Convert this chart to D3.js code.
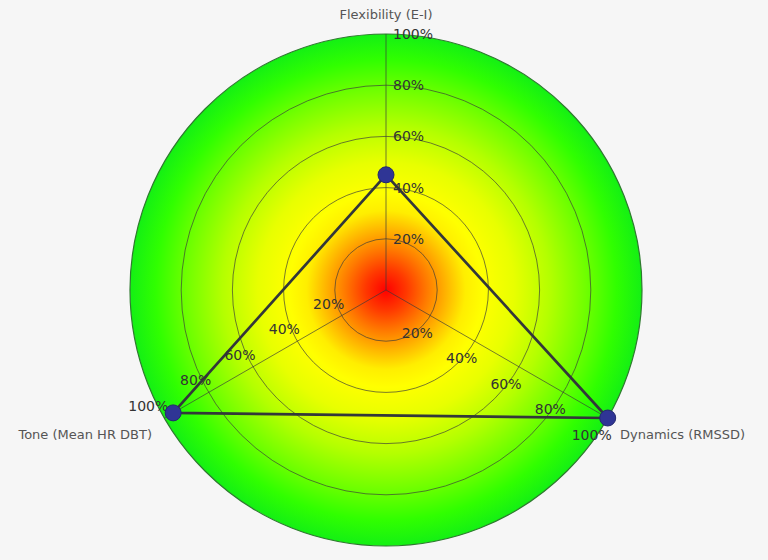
<!DOCTYPE html>
<html><head><meta charset="utf-8">
<script src="https://cdn.jsdelivr.net/npm/d3@7"></script>
<style>
html,body{margin:0;padding:0;background:#f6f6f6;}
svg{display:block;font-family:"DejaVu Sans",Verdana,sans-serif;}
</style></head>
<body>
<svg id="chart" width="768" height="560"></svg>
<script>
const categories = ["Flexibility (E-I)", "Dynamics (RMSSD)", "Tone (Mean HR DBT)"];
const values = [45, 100, 96];
const tickValues = [20, 40, 60, 80, 100];
const tickLabels = ["20%", "40%", "60%", "80%", "100%"];

const W = 768, H = 560, cx = 386, cy = 290, R = 256;
const svg = d3.select("#chart");
svg.append("rect").attr("width", W).attr("height", H).attr("fill", "#f6f6f6");

const defs = svg.append("defs");
const grad = defs.append("radialGradient").attr("id", "bg")
  .attr("cx", cx).attr("cy", cy).attr("r", R).attr("gradientUnits", "userSpaceOnUse");
[[0, "#ff0000"], [0.08, "#ff3800"], [0.16, "#ff7a00"], [0.24, "#ffb800"], [0.31, "#ffee00"], [0.38, "#ffff00"], [0.5, "#e8ff00"], [0.64, "#b4ff00"], [0.78, "#70ff00"], [0.9, "#30ff00"], [1, "#14f014"]]
  .forEach(([o, c]) => grad.append("stop").attr("offset", o).attr("stop-color", c));

const r = d3.scaleLinear().domain([0, 100]).range([0, R]);
const angle = d3.scaleOrdinal().domain(categories).range([0, 2 * Math.PI / 3, 4 * Math.PI / 3]);
const pt = (cat, v) => [cx + r(v) * Math.sin(angle(cat)), cy - r(v) * Math.cos(angle(cat))];

const g = svg.append("g");
g.append("circle").attr("cx", cx).attr("cy", cy).attr("r", r(100))
  .attr("fill", "url(#bg)").attr("stroke", "#2f7a2f").attr("stroke-width", 1.2);

tickValues.slice(0, -1).forEach(t => {
  g.append("circle").attr("cx", cx).attr("cy", cy).attr("r", r(t))
    .attr("fill", "none").attr("stroke", "#3a3a3a").attr("stroke-opacity", 0.75).attr("stroke-width", 0.9);
});

categories.forEach(c => {
  const [x, y] = pt(c, 100);
  g.append("line").attr("x1", cx).attr("y1", cy).attr("x2", x).attr("y2", y)
    .attr("stroke", "#3a3a3a").attr("stroke-opacity", 0.75).attr("stroke-width", 0.9);
});

// polygon
const lineGen = d3.line().curve(d3.curveLinearClosed);
g.append("path").attr("d", lineGen(categories.map((c, i) => pt(c, values[i]))))
  .attr("fill", "none").attr("stroke", "#33373a").attr("stroke-width", 2.7).attr("stroke-linejoin", "round");

// tick labels
const offsets = [[7, 0, "start"], [-13, 17, "middle"], [-13, -12, "middle"]];
categories.forEach((c, ci) => {
  tickValues.forEach((t, ti) => {
    const [x, y] = pt(c, t);
    const [dx, dy, anchor] = offsets[ci];
    const extra = (ti === 4 && ci > 0) ? -3 : 0;
    g.append("text").attr("x", x + dx + extra).attr("y", y + dy).attr("dy", "0.35em")
      .attr("text-anchor", anchor).attr("font-size", 14).attr("fill", "#333")
      .text(tickLabels[ti]);
  });
});

// markers
categories.forEach((c, i) => {
  const [x, y] = pt(c, values[i]);
  g.append("circle").attr("cx", x).attr("cy", y).attr("r", 8)
    .attr("fill", "#2f3595").attr("stroke", "#23286e").attr("stroke-width", 1);
});

// category labels
const catPos = [
  [cx, 14, "middle"],
  [620, 434, "start"],
  [152, 434, "end"]
];
categories.forEach((c, i) => {
  const [x, y, a] = catPos[i];
  g.append("text").attr("x", x).attr("y", y).attr("dy", "0.35em").attr("text-anchor", a)
    .attr("font-size", 13).attr("fill", "#555").text(c);
});
</script>
</body></html>
